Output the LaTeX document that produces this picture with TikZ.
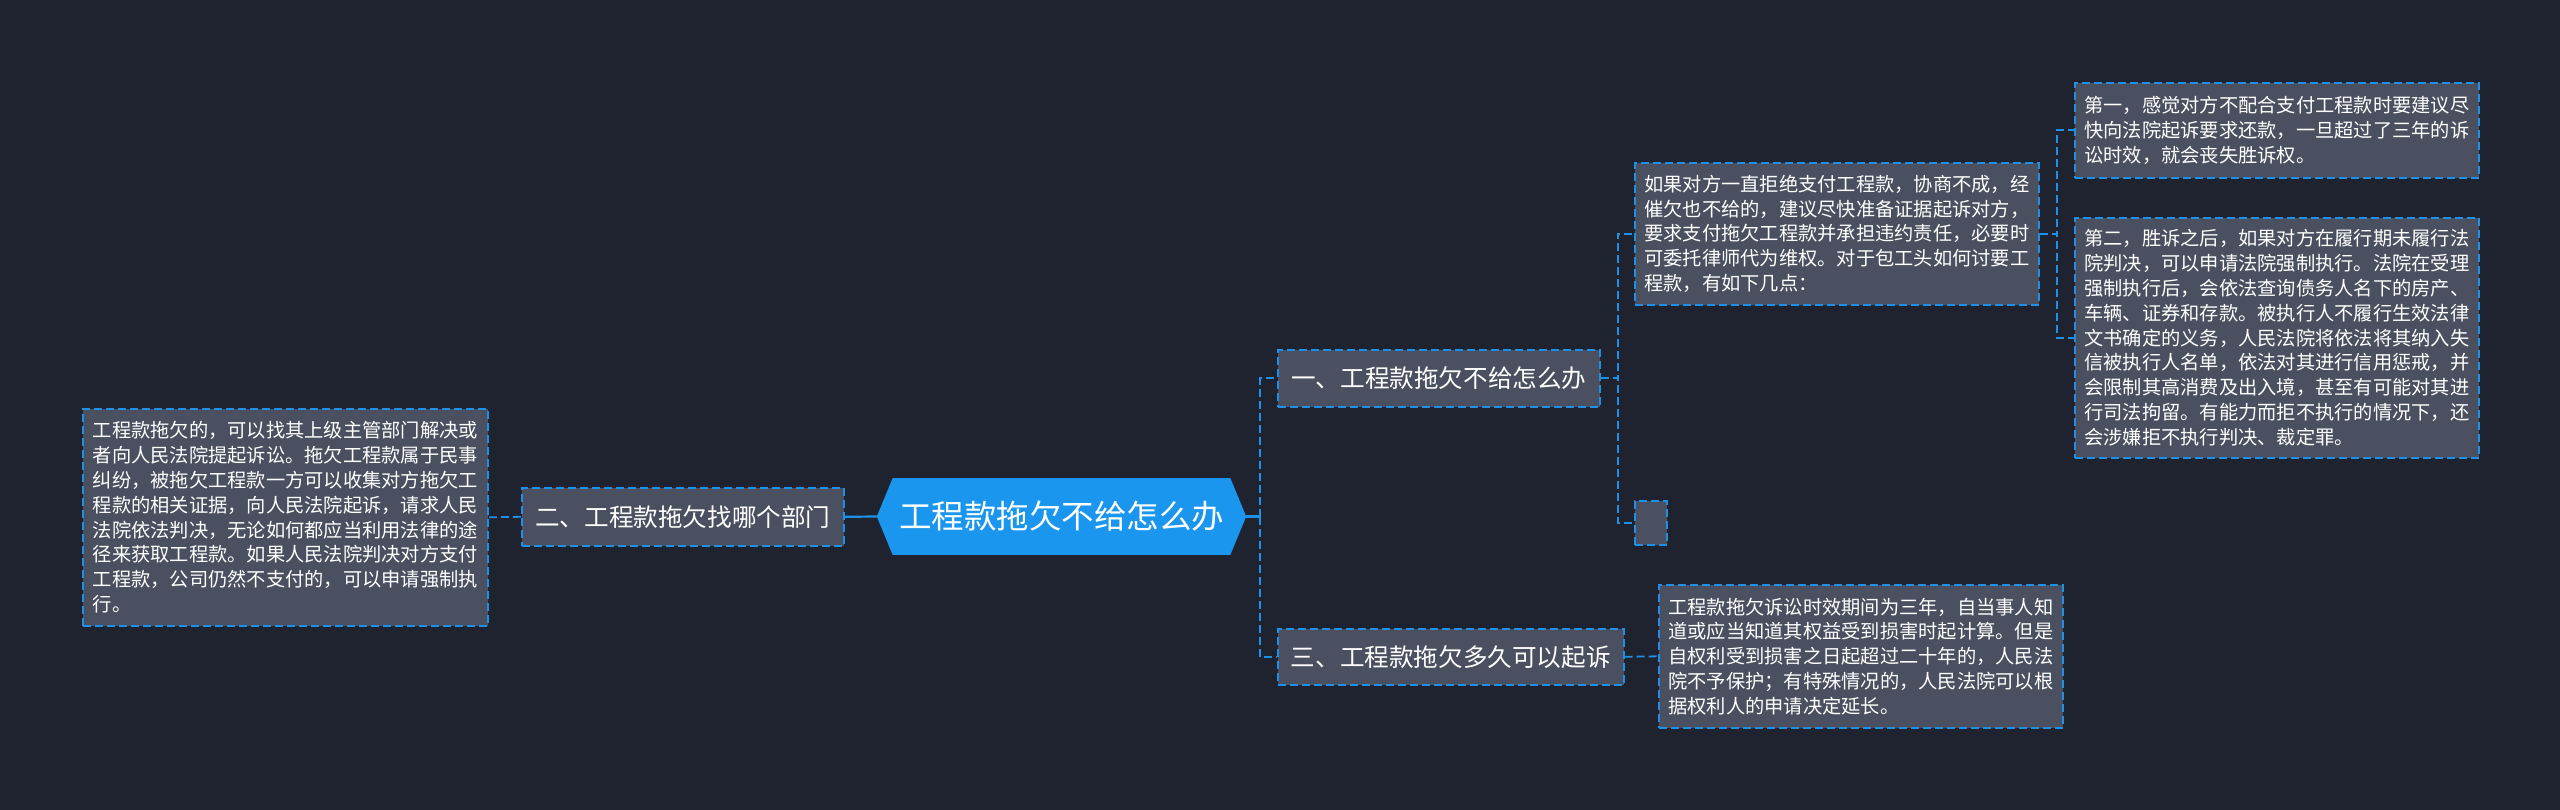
\documentclass[tikz,border=0pt]{standalone}
\usepackage{fontspec}
\newfontfamily\cjk{Noto Sans CJK SC}
\usetikzlibrary{calc}
\definecolor{bgc}{RGB}{31,35,48}
\definecolor{boxfill}{RGB}{75,80,96}
\definecolor{bdc}{RGB}{30,144,230}
\definecolor{cfill}{RGB}{26,150,238}
\begin{document}
\begin{tikzpicture}[x=1pt,y=-1pt,
  tbox/.style={draw=bdc, fill=boxfill, line width=1.6pt, dash pattern=on 8pt off 4pt,
    text=white, font=\cjk\fontsize{19.25}{24.8}\selectfont, align=left, inner sep=0pt, anchor=north west},
  mbox/.style={draw=bdc, fill=boxfill, line width=1.6pt, dash pattern=on 8pt off 4pt,
    text=white, font=\cjk\fontsize{24.6}{30}\selectfont, inner sep=0pt, anchor=north west},
  conn/.style={draw=bdc, line width=1.8pt, dash pattern=on 8pt off 4pt},
  sconn/.style={draw=bdc, line width=2.2pt}]
\fill[bgc] (0,0) rectangle (2560,810);
\useasboundingbox (0,0) rectangle (2560,810);

% centre node
\node[fill=cfill, text=white, font=\cjk\fontsize{32.5}{38}\selectfont, inner sep=0pt,
  minimum width=337pt, minimum height=77pt] (c) at (1061.5,516.5) {工程款拖欠不给怎么办};
\coordinate (cl) at ($(c.west)+(-16,0)$);
\coordinate (cr) at ($(c.east)+(16,0)$);
\fill[cfill] (c.north west) -- (cl) -- (c.south west) -- cycle;
\fill[cfill] (c.north east) -- (cr) -- (c.south east) -- cycle;

% main branches
\node[mbox, minimum width=322pt, minimum height=57pt] (n1) at (1277,349) {一、工程款拖欠不给怎么办};
\node[mbox, minimum width=346pt, minimum height=56pt] (n3) at (1277,628) {三、工程款拖欠多久可以起诉};
\node[mbox, minimum width=322pt, minimum height=58pt] (n2) at (521,487) {二、工程款拖欠找哪个部门};

% text boxes
\node[tbox, minimum width=405pt, minimum height=217pt] (L) at (82,408) {工程款拖欠的，可以找其上级主管部门解决或\\者向人民法院提起诉讼。拖欠工程款属于民事\\纠纷，被拖欠工程款一方可以收集对方拖欠工\\程款的相关证据，向人民法院起诉，请求人民\\法院依法判决，无论如何都应当利用法律的途\\径来获取工程款。如果人民法院判决对方支付\\工程款，公司仍然不支付的，可以申请强制执\\行。};
\node[tbox, minimum width=404pt, minimum height=142pt] (A) at (1634,162) {如果对方一直拒绝支付工程款，协商不成，经\\催欠也不给的，建议尽快准备证据起诉对方，\\要求支付拖欠工程款并承担违约责任，必要时\\可委托律师代为维权。对于包工头如何讨要工\\程款，有如下几点：};
\node[tbox, minimum width=404pt, minimum height=95pt] (B) at (2074,82) {第一，感觉对方不配合支付工程款时要建议尽\\快向法院起诉要求还款，一旦超过了三年的诉\\讼时效，就会丧失胜诉权。};
\node[tbox, minimum width=404pt, minimum height=240pt] (C) at (2074,217) {第二，胜诉之后，如果对方在履行期未履行法\\院判决，可以申请法院强制执行。法院在受理\\强制执行后，会依法查询债务人名下的房产、\\车辆、证券和存款。被执行人不履行生效法律\\文书确定的义务，人民法院将依法将其纳入失\\信被执行人名单，依法对其进行信用惩戒，并\\会限制其高消费及出入境，甚至有可能对其进\\行司法拘留。有能力而拒不执行的情况下，还\\会涉嫌拒不执行判决、裁定罪。};
\node[tbox, minimum width=404pt, minimum height=143pt] (D) at (1658,584) {工程款拖欠诉讼时效期间为三年，自当事人知\\道或应当知道其权益受到损害时起计算。但是\\自权利受到损害之日起超过二十年的，人民法\\院不予保护；有特殊情况的，人民法院可以根\\据权利人的申请决定延长。};
\node[tbox, minimum width=32pt, minimum height=44pt] (E) at (1634,500) {};

% connectors
\coordinate (cj) at ($(cr)+(14,0)$);
\draw[sconn] (cr) -- (cj);
\draw[conn] (cj) |- (n1.west);
\draw[conn] (cj) |- (n3.west);
\draw[sconn] (cl) -- (n2.east);
\draw[conn] (n2.west) -- (L.east);
\draw[conn] (n1.east) -- ++(17,0) |- (A.west);
\draw[conn] (n1.east) -- ++(17,0) |- (E.west);
\draw[conn] (A.east) -- ++(17,0) |- (B.west);
\draw[conn] (A.east) -- ++(17,0) |- (C.west);
\draw[conn] (n3.east) -- (D.west);
\end{tikzpicture}
\end{document}
